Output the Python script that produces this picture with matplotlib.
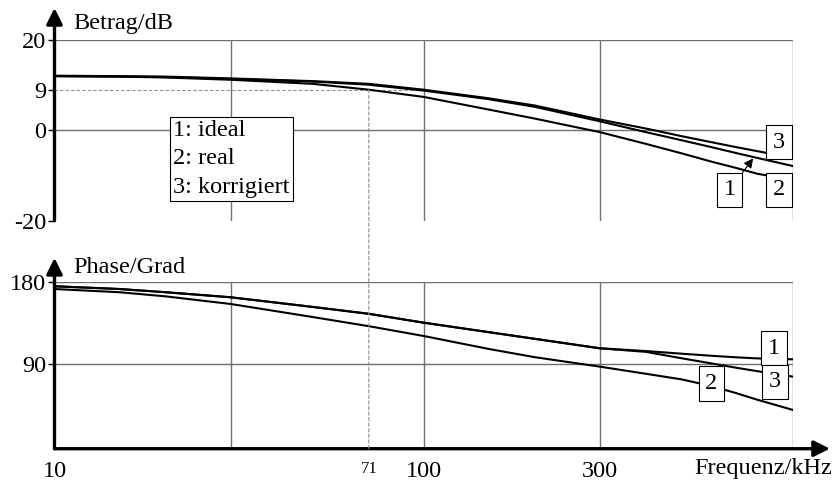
import matplotlib
matplotlib.use("Agg")
import matplotlib.pyplot as plt
from matplotlib.patches import ConnectionPatch

plt.rcParams["font.family"] = ["Liberation Serif", "DejaVu Serif"]
plt.rcParams["font.size"] = 17.5

# frequencies in kHz
freq = [10, 15, 20, 30, 50, 71, 100, 150, 200, 300, 400, 500, 600, 700, 800, 1000]

# magnitude in dB
mag_ideal = [12.0, 11.9, 11.8, 11.4, 10.8, 10.1, 8.8, 6.9, 5.2, 2.0, -0.4, -2.2, -3.7, -5.0, -6.1, -7.9]
mag_real = [12.0, 11.9, 11.7, 11.2, 10.3, 9.0, 7.4, 4.6, 2.6, -0.4, -3.0, -5.1, -6.9, -8.3, -9.6, -11.0]
mag_korr = [12.1, 12.0, 11.9, 11.5, 10.9, 10.3, 9.0, 7.1, 5.5, 2.4, 0.4, -1.3, -2.6, -3.7, -4.6, -6.1]

# phase in degrees
ph_ideal = [175, 172, 168.5, 163, 152.5, 145, 135.3, 125, 117.7, 107.4, 104.4, 101.5, 99.3, 97.6, 96.4, 95.4]
ph_real = [172, 168.5, 164, 155.7, 141.5, 131.5, 120.8, 106.7, 97.7, 87.4, 79.6, 73.5, 66.3, 58.7, 51.4, 40.2]
ph_korr = [175, 172, 168.5, 163, 152.5, 145, 135.3, 125, 117.7, 107.4, 103.5, 96.5, 91.0, 86.3, 82.5, 76.5]

grid_f = [30, 100, 300, 1000]
mag_ticks = [-20, 0, 9, 20]
mag_grid = [0, 20]
ph_ticks = [90, 180]
f_ticks = [10, 71, 100, 300]
f_cut = 71
mag_cut = 9

GRID = "#707070"
DASH = "#909090"

fig = plt.figure(figsize=(8.32, 4.82), dpi=100)
ax1 = fig.add_axes([0.0655, 0.5421, 0.8876, 0.3749])
ax2 = fig.add_axes([0.0655, 0.0691, 0.8876, 0.3465])

for ax in (ax1, ax2):
    ax.set_xscale("log")
    ax.set_xlim(10, 1000)
    ax.minorticks_off()
    for s in ("top", "right"):
        ax.spines[s].set_visible(False)
    ax.tick_params(axis="y", direction="out", length=4, width=1, pad=2)
    for f in grid_f:
        ax.axvline(f, color=GRID, lw=1, zorder=1)

box = dict(boxstyle="square,pad=0.27", fc="white", ec="black", lw=0.8)

# --- magnitude ---
ax1.spines["bottom"].set_visible(False)
ax1.set_ylim(-20, 20)
ax1.set_yticks(mag_ticks)
ax1.set_yticklabels([str(t) for t in mag_ticks])
ax1.set_xticks([])
for m in mag_grid:
    ax1.axhline(m, color=GRID, lw=1, zorder=1)
ax1.plot([10, 97], [mag_cut, mag_cut], color=DASH, lw=0.8, ls=(0, (3, 2)), zorder=1)

ax1.plot(freq, mag_ideal, color="black", lw=1.5, zorder=3)
ax1.plot(freq, mag_real, color="black", lw=1.5, zorder=3)
ax1.plot(freq, mag_korr, color="black", lw=1.5, zorder=3)

ax1.text(0.161, 0.556, "1: ideal\n2: real\n3: korrigiert", transform=ax1.transAxes,
         ha="left", va="top", linespacing=1.45, zorder=5,
         bbox=dict(boxstyle="square,pad=0.12", fc="white", ec="black", lw=0.8))

ax1.text(916, -2.65, "3", ha="center", va="center", bbox=box, zorder=6)
ax1.text(916, -13.2, "2", ha="center", va="center", bbox=box, zorder=6)
ax1.annotate("1", xy=(780, -6.2), xytext=(673, -13.2), ha="center", va="center",
             bbox=box, zorder=6,
             arrowprops=dict(arrowstyle="-|>", color="black", lw=0.8, mutation_scale=14,
                             shrinkA=0, shrinkB=0))

ax1.annotate("", xy=(0, 1.177), xytext=(0, 0), xycoords="axes fraction",
             arrowprops=dict(arrowstyle="-|>", color="black", lw=2.4, mutation_scale=24,
                             shrinkA=0, shrinkB=0))
ax1.spines["left"].set_visible(False)
ax1.text(0.026, 1.089, "Betrag/dB", transform=ax1.transAxes, ha="left", va="center")

# --- phase ---
ax2.set_ylim(-2, 180)
ax2.spines["left"].set_visible(False)
ax2.spines["bottom"].set_visible(False)
ax2.set_yticks(ph_ticks)
ax2.set_yticklabels([str(t) for t in ph_ticks])
ax2.axhline(180, color=GRID, lw=1, zorder=1)
ax2.axhline(90, color=GRID, lw=1, zorder=1)

ax2.set_xticks(f_ticks)
ax2.set_xticklabels([str(t) for t in f_ticks])
ax2.tick_params(axis="x", length=0, pad=9)
ax2.get_xticklabels()[1].set_fontsize(12)

ax2.plot(freq, ph_ideal, color="black", lw=1.5, zorder=3)
ax2.plot(freq, ph_real, color="black", lw=1.5, zorder=3)
ax2.plot(freq, ph_korr, color="black", lw=1.5, zorder=3)

ax2.text(889, 107.7, "1", ha="center", va="center", bbox=box, zorder=6)
ax2.text(894, 70.7, "3", ha="center", va="center", bbox=box, zorder=6)
ax2.text(601, 69, "2", ha="center", va="center", bbox=box, zorder=6)

# axis lines with arrow heads
ax2.annotate("", xy=(0, 1.142), xytext=(0, 0), xycoords="axes fraction",
             arrowprops=dict(arrowstyle="-|>", color="black", lw=2.4, mutation_scale=24,
                             shrinkA=0, shrinkB=0))
ax2.annotate("", xy=(1.05, 0), xytext=(0, 0), xycoords="axes fraction",
             arrowprops=dict(arrowstyle="-|>", color="black", lw=2.4, mutation_scale=24,
                             shrinkA=0, shrinkB=0))
ax2.text(0.026, 1.082, "Phase/Grad", transform=ax2.transAxes, ha="left", va="center")
ax2.text(1.053, -0.116, "Frequenz/kHz", transform=ax2.transAxes, ha="right", va="center")

# dashed marker at the cut-off frequency across both plots
con = ConnectionPatch(xyA=(f_cut, mag_cut), coordsA=ax1.transData,
                      xyB=(f_cut, -2), coordsB=ax2.transData,
                      color=DASH, lw=0.8, ls=(0, (3, 2)), zorder=1)
fig.add_artist(con)

fig.savefig("out.png", dpi=100)
